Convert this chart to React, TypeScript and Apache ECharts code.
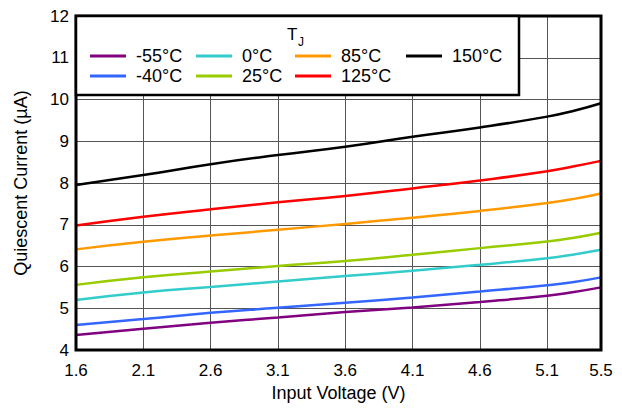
import React, { useEffect, useRef } from "react";
import * as echarts from "echarts";

const voltages = [1.6, 2.1, 2.6, 3.1, 3.6, 4.1, 4.6, 5.1, 5.3, 5.5];
const xTickLabels = ["1.6", "2.1", "2.6", "3.1", "3.6", "4.1", "4.6", "5.1", "5.5"];
const yTicks = [4, 5, 6, 7, 8, 9, 10, 11, 12];

const iqM55 = [4.36, 4.51, 4.65, 4.78, 4.91, 5.02, 5.15, 5.3, 5.39, 5.5];
const iqM40 = [4.6, 4.74, 4.89, 5.01, 5.13, 5.26, 5.4, 5.55, 5.63, 5.74];
const iq0 = [5.2, 5.38, 5.51, 5.64, 5.77, 5.9, 6.04, 6.2, 6.29, 6.4];
const iq25 = [5.56, 5.74, 5.88, 6.01, 6.13, 6.28, 6.44, 6.6, 6.69, 6.81];
const iq85 = [6.41, 6.59, 6.74, 6.88, 7.02, 7.17, 7.33, 7.52, 7.62, 7.75];
const iq125 = [6.98, 7.19, 7.37, 7.54, 7.69, 7.87, 8.06, 8.28, 8.4, 8.53];
const iq150 = [7.95, 8.19, 8.45, 8.67, 8.87, 9.11, 9.33, 9.59, 9.73, 9.91];

const seriesNames = ["-55°C", "-40°C", "0°C", "25°C", "85°C", "125°C", "150°C"];
const seriesValues = [iqM55, iqM40, iq0, iq25, iq85, iq125, iq150];
const seriesColors = ["#800080", "#3366FF", "#33CCCC", "#99CC00", "#FF9900", "#FF0000", "#000000"];

const X0 = voltages[0];
const XMAX = voltages[voltages.length - 1];
const FONT = "'Liberation Sans', Arial, sans-serif";

export default function App() {
  const ref = useRef<HTMLDivElement>(null);
  useEffect(() => {
    if (!ref.current) return;
    const chart = echarts.init(ref.current, null, { renderer: "svg" });
    const legendCols = [
      { data: ["-55°C", "-40°C"], left: 90 },
      { data: ["0°C", "25°C"], left: 196 },
      { data: ["85°C", "125°C"], left: 295 },
      { data: ["150°C"], left: 406 },
    ];
    chart.setOption({
      animation: false,
      backgroundColor: "#fff",
      textStyle: { fontFamily: FONT },
      grid: {
        left: 76,
        right: 21,
        top: 16,
        bottom: 59,
        show: true,
        borderColor: "#000",
        borderWidth: 3,
        backgroundColor: "transparent",
        z: 3,
      },
      xAxis: {
        type: "value",
        min: 0,
        max: +(XMAX - X0).toFixed(2),
        interval: 0.5,
        name: "Input Voltage (V)",
        nameLocation: "middle",
        nameGap: 33,
        nameTextStyle: { fontSize: 18, color: "#000", fontFamily: FONT },
        axisLine: { show: false },
        axisTick: { show: false },
        axisLabel: {
          fontSize: 17,
          color: "#000",
          margin: 12,
          fontFamily: FONT,
          formatter: (v: number) => {
            const lbl = (v + X0).toFixed(1);
            return xTickLabels.includes(lbl) ? lbl : "";
          },
        },
        splitLine: { show: true, lineStyle: { color: "#555", width: 1 } },
      },
      yAxis: {
        type: "value",
        min: yTicks[0],
        max: yTicks[yTicks.length - 1],
        interval: 1,
        name: "Quiescent Current (µA)",
        nameLocation: "middle",
        nameGap: 46,
        nameTextStyle: { fontSize: 18, color: "#000", fontFamily: FONT },
        axisLine: { show: false },
        axisTick: { show: false },
        axisLabel: { fontSize: 17, color: "#000", margin: 7, fontFamily: FONT },
        splitLine: { show: true, lineStyle: { color: "#555", width: 1 } },
      },
      legend: legendCols.map((c) => ({
        data: c.data,
        orient: "vertical",
        left: c.left,
        top: 47,
        padding: 0,
        itemGap: 2,
        itemWidth: 36,
        itemHeight: 3,
        icon: "rect",
        selectedMode: false,
        z: 10,
        textStyle: {
          fontSize: 18,
          lineHeight: 18,
          color: "#000",
          fontFamily: FONT,
          padding: [0, 0, 0, 5],
        },
      })),
      graphic: [
        {
          type: "rect",
          z: 5,
          shape: { x: 76, y: 16, width: 443, height: 79 },
          style: { fill: "#fff", stroke: "#000", lineWidth: 2.5 },
        },
        {
          type: "text",
          z: 6,
          x: 287,
          y: 26,
          style: { text: "T", fontSize: 17, fill: "#000", fontFamily: FONT },
        },
        {
          type: "text",
          z: 6,
          x: 298,
          y: 36,
          style: { text: "J", fontSize: 12, fill: "#000", fontFamily: FONT },
        },
      ],
      series: seriesNames.map((name, i) => ({
        name,
        type: "line",
        data: voltages.map((v, k) => [+(v - X0).toFixed(2), seriesValues[i][k]]),
        smooth: 0.5,
        showSymbol: false,
        symbol: "none",
        color: seriesColors[i],
        lineStyle: { width: 2.5, color: seriesColors[i] },
        z: 2,
      })),
    });
    return () => chart.dispose();
  }, []);
  return <div ref={ref} style={{ width: 622, height: 409, position: "absolute", left: 0, top: 0 }} />;
}
